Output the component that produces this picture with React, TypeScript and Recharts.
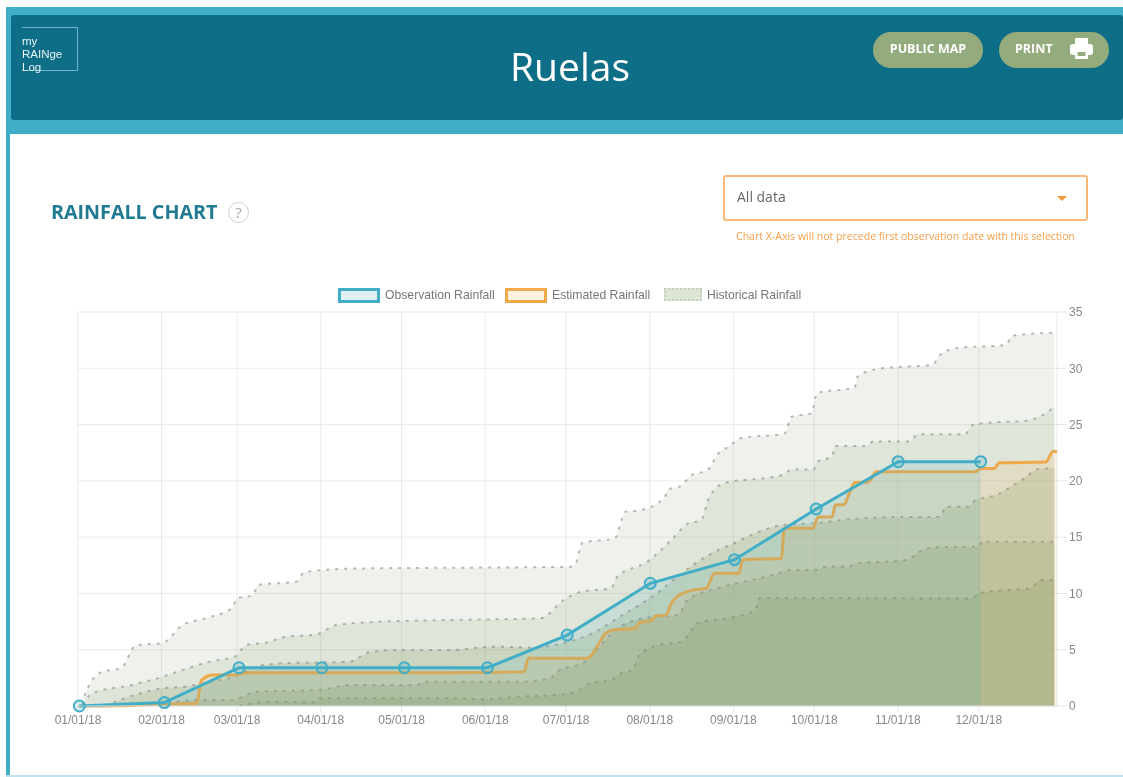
import React from "react";
import { ComposedChart, Area, XAxis, YAxis, CartesianGrid, Legend } from "recharts";

type Pt = [number, number];

const monthDays = [0, 31, 59, 90, 120, 151, 181, 212, 243, 273, 304, 334];
const monthLabels = ["01/01/18", "02/01/18", "03/01/18", "04/01/18", "05/01/18", "06/01/18", "07/01/18", "08/01/18", "09/01/18", "10/01/18", "11/01/18", "12/01/18"];
const yTicks = [0, 5, 10, 15, 20, 25, 30, 35];

const observation: Pt[] = [[0.5, 0], [32, 0.3], [59.7, 3.4], [90.4, 3.4], [121, 3.4], [151.8, 3.4], [181.4, 6.3], [212.2, 10.9], [243.4, 13], [273.7, 17.5], [304.1, 21.7], [334.7, 21.7]];

const estimated: Pt[] = [[0.5, 0], [20, 0.05], [34, 0.18], [44, 0.25], [45.8, 2.3], [50, 2.75], [58, 2.75], [62.7, 2.96], [138, 2.96], [165.4, 3.05], [167, 4.25], [188.7, 4.25], [196, 6.5], [198.5, 6.75], [206.7, 6.9], [208, 7.37], [213, 7.64], [214, 8], [218, 8.08], [220, 9.1], [222, 9.7], [228, 10.3], [233, 10.46], [236, 11.8], [245, 11.8], [246.5, 13], [260.7, 13.1], [262, 15.8], [272.6, 15.8], [274.4, 16.8], [279.6, 16.8], [280.8, 17.86], [284, 17.9], [286, 18.9], [288, 19.85], [293, 19.9], [296, 20.8], [332.8, 20.8], [334.7, 21.1], [339.7, 21.1], [341.5, 21.6], [358.8, 21.67], [361.5, 22.6], [363, 22.6]];

const historyA: Pt[] = [[1.6, 0.1], [2.5, 0.98], [9, 3.05], [15.9, 3.35], [21.5, 5.4], [31.4, 5.6], [38.8, 7.2], [47.5, 7.8], [57.4, 8.75], [58.7, 9.55], [64.9, 9.85], [66.7, 10.75], [81, 11.05], [84, 11.9], [101, 12.2], [182.7, 12.37], [184.6, 12.7], [187, 14.5], [199, 14.9], [203, 17.26], [207.5, 17.35], [217.5, 18.5], [218.7, 19.2], [224, 19.6], [226.8, 20.4], [233.6, 21], [237.3, 22.4], [241, 23], [246, 23.8], [262, 24.2], [264.6, 25.7], [272, 26], [274, 27.8], [288, 28.3], [289, 29.25], [295.6, 29.9], [303, 30.1], [316.7, 30.3], [319.7, 31.2], [326, 31.8], [344, 32.07], [346.5, 32.9], [362, 33.16]];

const historyB: Pt[] = [[1.6, 0.1], [5.3, 1.13], [20, 1.87], [31.4, 2.6], [38.8, 3.2], [48.8, 3.94], [58, 4.38], [62.4, 5.4], [71, 5.7], [76, 6.1], [88.5, 6.37], [96, 7.2], [113, 7.5], [138, 7.64], [171.6, 7.8], [180, 9.4], [186.5, 10.15], [197.6, 10.46], [200, 11.5], [211, 12.8], [221, 15], [226, 16.2], [231, 16.5], [234, 18.5], [239.7, 19.8], [261, 20.5], [264.6, 21], [272.7, 21], [274, 21.7], [279.6, 22.15], [280.7, 23.1], [291.9, 23.1], [295, 23.5], [308, 23.5], [311.7, 24.15], [329, 24.15], [331.6, 24.96], [340, 25.2], [350, 25.3], [358.8, 26], [362, 26.6]];

const historyC: Pt[] = [[10, 0.02], [19, 0.83], [31.4, 1.57], [38.8, 1.7], [50, 2.2], [58, 2.6], [66, 3.5], [76, 3.8], [101, 3.94], [104.6, 4.38], [108, 4.8], [118, 4.97], [138, 4.97], [154, 5.27], [168, 5.2], [180, 5.6], [191, 6.5], [202, 8.1], [213.8, 9.86], [225, 12], [236, 13.7], [243.6, 14.5], [249.7, 15.2], [262, 16.1], [274.5, 16.26], [285.7, 16.6], [308, 16.8], [319.7, 16.8], [321.7, 17.7], [330, 17.7], [332.8, 18.3], [340, 18.7], [350, 20.1], [357, 21.1], [362, 21.1]];

const historyD: Pt[] = [[30, 0.02], [43.8, 0.53], [57, 0.53], [66, 1.27], [88.5, 1.42], [101, 1.87], [125.7, 1.87], [129, 2.16], [165, 2.16], [175, 2.46], [177.7, 3.05], [187.7, 3.9], [200, 6.9], [212.5, 7.9], [222.4, 8.08], [226, 9.4], [237, 10.46], [249.7, 11.2], [257, 11.6], [264.6, 12.08], [273, 12.08], [278, 12.4], [285.7, 12.4], [289, 12.7], [304, 12.9], [308, 13.05], [311.7, 13.7], [318, 14.1], [334, 14.15], [335, 14.6], [362, 14.6]];

const historyE: Pt[] = [[60, 0.03], [71, 0.38], [88, 0.33], [89.7, 0.68], [138, 0.68], [151.7, 0.6], [163, 0.83], [172.7, 0.92], [184, 1.2], [190, 2.04], [197.6, 2.3], [201, 2.9], [205.7, 3.2], [208, 4.5], [215, 5.4], [223.7, 5.7], [230, 7.4], [241, 7.8], [251, 8.5], [252.8, 9.6], [331.6, 9.55], [334, 10], [341.5, 10.25], [353, 10.46], [357, 11.2], [362, 11.2]];

const legendLabels = ["Observation Rainfall", "Estimated Rainfall", "Historical Rainfall"];

const seriesTable: Record<string, Pt[]> = { observation, estimated, historyA, historyB, historyC, historyD, historyE };
const rowByDay = new Map<number, Record<string, number>>();
Object.entries(seriesTable).forEach(([key, pts]) => {
  pts.forEach(([day, value]) => {
    const row = rowByDay.get(day) ?? { day };
    row[key] = value;
    rowByDay.set(day, row);
  });
});
const rows = Array.from(rowByDay.values()).sort((a, b) => a.day - b.day);

const TEAL = "#41aec7";
const ORANGE = "#efa94a";
const HIST_STROKE = "rgba(120,120,120,0.5)";
const historyLayers: [string, string][] = [
  ["historyA", "rgba(147,170,125,0.15)"],
  ["historyB", "rgba(147,170,125,0.18)"],
  ["historyC", "rgba(130,160,105,0.22)"],
  ["historyD", "rgba(130,160,105,0.25)"],
  ["historyE", "rgba(130,160,105,0.25)"],
];

const legendRow = () => (
  <div style={{ position: "relative", width: 1123, height: 20, fontFamily: "'Liberation Sans', Arial, sans-serif", fontSize: 12.2, color: "#777" }}>
    <div style={{ position: "absolute", left: 338, top: 0, width: 36, height: 9, border: `3px solid ${TEAL}`, background: "#dff0f5", boxSizing: "content-box" }} />
    <span style={{ position: "absolute", left: 385, top: 0 }}>{legendLabels[0]}</span>
    <div style={{ position: "absolute", left: 505, top: 0, width: 36, height: 9, border: `3px solid ${ORANGE}`, background: "#fdf1df" }} />
    <span style={{ position: "absolute", left: 552, top: 0 }}>{legendLabels[1]}</span>
    <div style={{ position: "absolute", left: 664, top: 0, width: 34, height: 9, border: "2px dotted #c3d0b7", background: "#dde5d7" }} />
    <span style={{ position: "absolute", left: 707, top: 0 }}>{legendLabels[2]}</span>
  </div>
);

const obsDot = (props: any) => {
  const { cx, cy, payload, key } = props;
  if (payload?.observation == null || cy == null) return <g key={key} />;
  return <circle key={key} cx={cx} cy={cy} r={5.5} fill="rgba(65,174,199,0.2)" stroke={TEAL} strokeWidth={2} />;
};

const abs = (l: number, t: number, w: number, h: number, extra: React.CSSProperties = {}): React.CSSProperties => ({
  position: "absolute", left: l, top: t, width: w, height: h, boxSizing: "border-box", ...extra,
});

const pill: React.CSSProperties = { background: "#93ab7d", borderRadius: 18, color: "#fff", fontWeight: 700, fontSize: 12.5, display: "flex", alignItems: "center", paddingBottom: 4 };

export default function App() {
  return (
    <div style={{ position: "absolute", left: 0, top: 0, width: 1123, height: 777, overflow: "hidden", background: "#fff", fontFamily: "'Open Sans', sans-serif", filter: "blur(0.7px)" }}>
      <div style={abs(6, 7, 1117, 127, { background: TEAL })} />
      <div style={abs(6, 134, 4, 643, { background: TEAL })} />
      <div style={abs(6, 775, 1117, 2, { background: "#bfe3ec" })} />
      <div style={abs(11, 15, 1112, 105, { background: "#0e6e87", borderRadius: 3 })} />

      <div style={abs(22, 27, 56, 44, { borderTop: "1px solid #6fb4c6", borderRight: "1px solid #6fb4c6", borderBottom: "1px solid #6fb4c6" })} />
      <div style={abs(22, 35, 50, 40, { color: "#eaf3f5", fontFamily: "'Liberation Sans', sans-serif", fontSize: 11.5, lineHeight: "13px" })}>my<br />RAINge<br />Log</div>

      <div style={abs(410, 39, 320, 54, { color: "#fff", fontSize: 39, lineHeight: "54px", textAlign: "center" })}>Ruelas</div>

      <div style={abs(873, 32, 110, 36, { ...pill, justifyContent: "center" })}>PUBLIC MAP</div>
      <div style={abs(999, 32, 110, 36, { ...pill, paddingLeft: 16 })}>PRINT</div>
      <svg style={abs(1070, 38, 23, 21)} viewBox="0 0 23 21">
        <rect x="5" y="0" width="13" height="7" rx="1" fill="#fff" />
        <rect x="0" y="6" width="23" height="11" rx="3" fill="#fff" />
        <rect x="5" y="12" width="13" height="9" rx="1" fill="#fff" />
        <rect x="7.5" y="14" width="8" height="4" fill="#93ab7d" />
      </svg>

      <div style={abs(51, 198, 180, 28, { color: "#1f7a92", fontWeight: 700, fontSize: 19.7, lineHeight: "28px", whiteSpace: "nowrap" })}>RAINFALL CHART</div>
      <div style={abs(228, 202, 21, 21, { border: "1.5px solid #cfcfcf", borderRadius: "50%", color: "#aaa", fontSize: 15, lineHeight: "18px", textAlign: "center" })}>?</div>

      <div style={abs(723, 175, 365, 46, { border: "2px solid #f9b877", borderRadius: 3 })} />
      <div style={abs(737, 187, 100, 20, { color: "#666", fontSize: 14, lineHeight: "20px" })}>All data</div>
      <div style={{ position: "absolute", left: 1057, top: 196, width: 0, height: 0, borderLeft: "5px solid transparent", borderRight: "5px solid transparent", borderTop: "5px solid #f59a3c" }} />
      <div style={abs(736, 228, 360, 16, { color: "#f59f4a", fontSize: 10.55, lineHeight: "16px", whiteSpace: "nowrap" })}>Chart X-Axis will not precede first observation date with this selection</div>

      <div style={abs(0, 0, 1123, 777)}>
        <ComposedChart width={1123} height={777} data={rows} margin={{ top: 312, left: 78, right: 0, bottom: 0 }}>
          <CartesianGrid stroke="rgba(0,0,0,0.08)" strokeWidth={1} />
          <XAxis
            dataKey="day"
            type="number"
            domain={[0, 363]}
            ticks={monthDays}
            interval={0}
            height={51}
            tickSize={6}
            tickMargin={3}
            axisLine={{ stroke: "#dedede" }}
            tickLine={{ stroke: "#e4e4e4" }}
            tick={{ fill: "#888", fontSize: 12, fontFamily: "'Liberation Sans', sans-serif" }}
            tickFormatter={(d: number) => monthLabels[monthDays.indexOf(d)]}
          />
          <YAxis
            orientation="right"
            type="number"
            domain={[0, 35]}
            ticks={yTicks}
            width={66}
            tickSize={10}
            tickMargin={2}
            axisLine={false}
            tickLine={{ stroke: "#e4e4e4" }}
            tick={{ fill: "#888", fontSize: 12, fontFamily: "'Liberation Sans', sans-serif" }}
          />
          <Legend content={legendRow} wrapperStyle={{ position: "absolute", left: 0, top: 288, width: 1123 }} />
          {historyLayers.map(([k, fill]) => (
            <Area key={k} dataKey={k} type="monotone" connectNulls baseValue={0} stroke={HIST_STROKE} strokeWidth={2} strokeDasharray="3 6" fill={fill} fillOpacity={1} dot={false} activeDot={false} isAnimationActive={false} />
          ))}
          <Area dataKey="estimated" type="monotone" connectNulls baseValue={0} stroke={ORANGE} strokeWidth={3} fill="rgba(240,165,60,0.13)" fillOpacity={1} dot={false} activeDot={false} isAnimationActive={false} />
          <Area dataKey="observation" type="linear" connectNulls baseValue={0} stroke={TEAL} strokeWidth={3} fill="rgba(65,174,199,0.14)" fillOpacity={1} dot={obsDot} activeDot={false} isAnimationActive={false} />
        </ComposedChart>
      </div>
    </div>
  );
}
